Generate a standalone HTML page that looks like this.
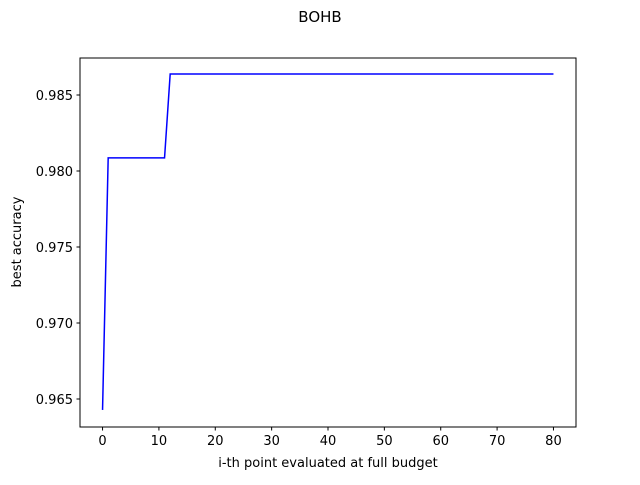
<!DOCTYPE html>
<html><head><meta charset="utf-8"><style>
body{margin:0;background:#fff;font-family:"Liberation Sans","DejaVu Sans",sans-serif}
</style></head><body>
<svg width="640" height="480" viewBox="0 0 640 480" font-family="DejaVu Sans, Liberation Sans, sans-serif">
<rect width="640" height="480" fill="#fff"/>
<text x="320" y="22" font-size="15" text-anchor="middle">BOHB</text>
<g id="plot"></g>
<rect x="80" y="58" width="496" height="369" fill="none" stroke="#000" stroke-width="1"/>
<text x="328" y="467" font-size="13" text-anchor="middle">i-th point evaluated at full budget</text>
<text transform="translate(21,242) rotate(-90)" font-size="13" text-anchor="middle">best accuracy</text>
</svg>
<script>
const xs=[0,1,11,12,80];
const ys=[0.96428,0.98086,0.98086,0.98638,0.98638];
const xTicks=[0,10,20,30,40,50,60,70,80];
const yTicks=[0.965,0.970,0.975,0.980,0.985];
const yLabels=["0.965","0.970","0.975","0.980","0.985"];
const X0=80,X1=576,Y0=427,Y1=58;
const xmin=-4,xmax=84;
function sx(v){return X0+(v-xmin)/(xmax-xmin)*(X1-X0);}
function sy(v){return 399-(v-0.965)/0.005*76;}
const ns="http://www.w3.org/2000/svg";
const g=document.getElementById('plot');
function mk(t,a){const e=document.createElementNS(ns,t);for(const k in a)e.setAttribute(k,a[k]);g.appendChild(e);return e;}
xTicks.forEach(v=>{
 const l=mk('line',{x1:sx(v),x2:sx(v),y1:Y0,y2:Y0+3.5,stroke:'#000'});
 
 
 const t=mk('text',{x:sx(v),y:Y0+18,'font-size':13,'text-anchor':'middle'});
 t.textContent=v;
 
 
});
yTicks.forEach((v,i)=>{
 const l=mk('line',{x1:X0-3.5,x2:X0,y1:sy(v),y2:sy(v),stroke:'#000'});
 
 
 const t=mk('text',{x:X0-7,y:sy(v)+5,'font-size':13,'text-anchor':'end'});
 t.textContent=yLabels[i];
 
 
});
const p=mk('polyline',{points:xs.map((x,i)=>sx(x)+','+sy(ys[i])).join(' '),fill:'none',stroke:'#0000ff','stroke-width':1.5});


</script>
</body></html>
